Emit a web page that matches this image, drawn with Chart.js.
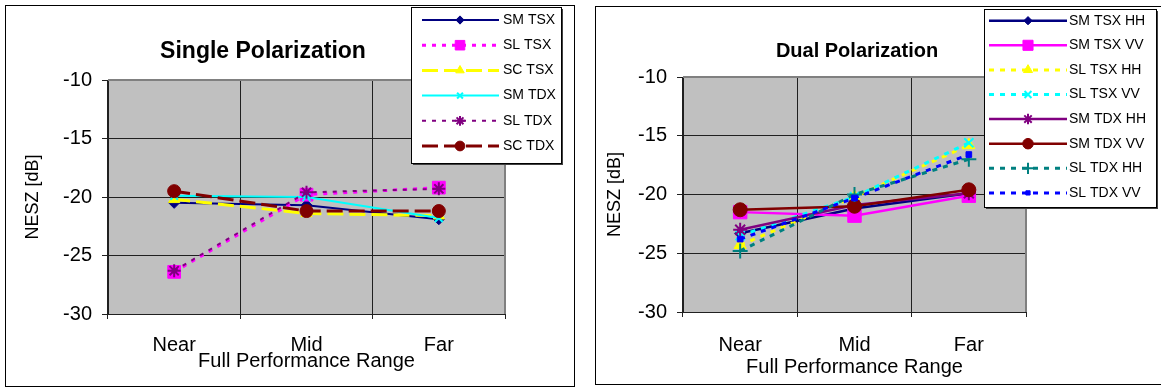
<!DOCTYPE html>
<html>
<head>
<meta charset="utf-8">
<script src="https://cdn.jsdelivr.net/npm/chart.js@4.4.0/dist/chart.umd.min.js"></script>
<style>
  body { margin: 0; background: #fff; width: 1161px; height: 388px; overflow: hidden; position: relative; }
  .frame { position: absolute; border: 1px solid #000; }
  #f1 { left: 5px; top: 5px; width: 568px; height: 380px; }
  #f2 { left: 595px; top: 6px; width: 570px; height: 377px; }
  canvas { display: block; }
</style>
</head>
<body>
<div class="frame" id="f1"><canvas id="c1" width="568" height="380"></canvas></div>
<div class="frame" id="f2"><canvas id="c2" width="568" height="377"></canvas></div>
<script>
const categories = ['Near', 'Mid', 'Far']

// single polarization
const smTsx = [-20.5, -20.7, -21.9]
const slTsx = [-26.4, -19.8, -19.2]
const scTsx = [-20.2, -21.4, -21.6]
const smTdx = [-19.9, -20.0, -21.8]
const slTdx = [-26.3, -19.6, -19.3]
const scTdx = [-19.5, -21.2, -21.2]

// dual polarization
const smTsxHH = [-23.3, -21.2, -19.9]
const smTsxVV = [-21.5, -21.8, -20.1]
const slTsxHH = [-24.3, -20.2, -15.8]
const slTsxVV = [-23.5, -20.2, -15.6]
const smTdxHH = [-23.0, -20.9, -19.9]
const smTdxVV = [-21.3, -21.0, -19.6]
const slTdxHH = [-24.8, -20.0, -17.0]
const slTdxVV = [-23.8, -20.3, -16.6]

const yTicks = [-30, -25, -20, -15, -10]

const FONT = '"Liberation Sans", Arial, sans-serif'
Chart.defaults.font.family = FONT
Chart.defaults.color = '#000'

function line(label, data, color, width, dash, style, radius) {
  const open = style === 'crossRot' || style === 'cross' || style === 'star' || style === 'line'
  return {
    label: label,
    data: data,
    borderColor: color,
    backgroundColor: color,
    borderWidth: width,
    borderDash: dash,
    pointStyle: style,
    pointRadius: radius,
    pointBackgroundColor: color,
    pointBorderColor: color,
    pointBorderWidth: open ? 2 : 1,
    tension: 0,
    fill: false
  }
}

const deco = {
  id: 'deco',
  beforeDraw(chart) {
    const {ctx, chartArea: a} = chart
    ctx.save()
    ctx.fillStyle = '#c0c0c0'
    ctx.fillRect(a.left, a.top, a.right - a.left, a.bottom - a.top)
    ctx.restore()
  },
  afterDraw(chart, args, o) {
    const {ctx, chartArea: a} = chart
    ctx.save()
    ctx.strokeStyle = '#808080'
    ctx.lineWidth = 2
    ctx.beginPath()
    ctx.moveTo(a.left, a.top)
    ctx.lineTo(a.right, a.top)
    ctx.lineTo(a.right, a.bottom)
    ctx.stroke()

    ctx.fillStyle = '#000'
    ctx.font = o.titleFont
    ctx.textAlign = 'center'
    ctx.textBaseline = 'middle'
    ctx.fillText(o.title, o.titleX, o.titleY)

    // legend box
    const b = o.box
    ctx.fillStyle = '#404040'
    ctx.fillRect(b[0] + 2, b[1] + 2, b[2] - b[0], b[3] - b[1])
    ctx.fillStyle = '#fff'
    ctx.fillRect(b[0], b[1], b[2] - b[0], b[3] - b[1])
    ctx.strokeStyle = '#000'
    ctx.lineWidth = 1
    ctx.strokeRect(b[0] + 0.5, b[1] + 0.5, b[2] - b[0], b[3] - b[1])

    chart.data.datasets.forEach((ds, i) => {
      const y = o.rowY + i * o.rowH
      ctx.save()
      ctx.strokeStyle = ds.borderColor
      ctx.lineWidth = ds.borderWidth
      ctx.setLineDash(ds.borderDash || [])
      ctx.beginPath()
      ctx.moveTo(o.lineX[0], y)
      ctx.lineTo(o.lineX[1], y)
      ctx.stroke()
      ctx.setLineDash([])
      ctx.fillStyle = ds.pointBackgroundColor
      ctx.strokeStyle = ds.pointBorderColor
      ctx.lineWidth = ds.pointBorderWidth
      Chart.helpers.drawPoint(ctx, {
        pointStyle: ds.pointStyle, radius: ds.pointRadius * 0.75, rotation: 0, borderWidth: ds.pointBorderWidth
      }, o.markerX, y)
      ctx.restore()
      ctx.fillStyle = '#000'
      ctx.font = o.legendFont
      ctx.textAlign = 'left'
      ctx.textBaseline = 'middle'
      ctx.fillText(ds.label, o.textX, y)
    })
    ctx.restore()
  }
}

function makeChart(canvas, datasets, c) {
  // later series drawn on top
  datasets.forEach((d, i) => { d.order = datasets.length - i })
  return new Chart(canvas, {
    type: 'line',
    data: { labels: categories, datasets: datasets },
    plugins: [deco],
    options: {
      responsive: false,
      animation: false,
      layout: { padding: { top: c.top, right: c.right, left: 0, bottom: 0 } },
      plugins: {
        legend: { display: false },
        tooltip: { enabled: false },
        deco: c.deco
      },
      scales: {
        x: {
          offset: true,
          grid: { offset: true, color: '#202020', lineWidth: 1, tickLength: 5 },
          border: { color: '#202020', width: 1 },
          ticks: { color: '#000', font: { size: 20 }, padding: c.xTickPad, maxRotation: 0 },
          title: { display: true, text: 'Full Performance Range', color: '#000', font: { size: 20 }, padding: { top: 0, bottom: c.xTitlePad } },
          afterFit(s) { s.height = c.xHeight }
        },
        y: {
          min: yTicks[0],
          max: yTicks[yTicks.length - 1],
          afterBuildTicks(s) { s.ticks = yTicks.map(v => ({ value: v })) },
          grid: { color: '#202020', lineWidth: 1, tickLength: 6 },
          border: { color: '#202020', width: 1 },
          ticks: { color: '#000', font: { size: 20 }, padding: 10 },
          title: { display: true, text: 'NESZ [dB]', color: '#000', font: { size: 18 }, padding: { top: c.yTitlePad, bottom: 0 } },
          afterFit(s) { s.width = c.yWidth }
        }
      }
    }
  })
}

makeChart(document.getElementById('c1'), [
  line('SM TSX', smTsx, '#000080', 2, [], 'rectRot', 5.5),
  line('SL TSX', slTsx, '#ff00ff', 3, [4, 6], 'rect', 9),
  line('SC TSX', scTsx, '#ffff00', 3, [16, 6], 'triangle', 6.5),
  line('SM TDX', smTdx, '#00ffff', 2, [], 'crossRot', 5.5),
  line('SL TDX', slTdx, '#800080', 2, [4, 6], 'star', 6.5),
  line('SC TDX', scTdx, '#800000', 3, [16, 6], 'circle', 6.5)
], {
  top: 74, right: 69, yWidth: 102, xHeight: 72, xTickPad: 14, xTitlePad: 13, yTitlePad: 16,
  deco: {
    title: 'Single Polarization', titleFont: 'bold 23px ' + FONT, titleX: 257, titleY: 46,
    box: [405, 1, 555, 157], rowY: 14, rowH: 25.2, lineX: [416, 493], markerX: 454, textX: 497,
    legendFont: '14px ' + FONT
  }
})

makeChart(document.getElementById('c2'), [
  line('SM TSX HH', smTsxHH, '#000080', 2.5, [], 'rectRot', 5.5),
  line('SM TSX VV', smTsxVV, '#ff00ff', 2.5, [], 'rect', 9.5),
  line('SL TSX HH', slTsxHH, '#ffff00', 3, [5, 6], 'triangle', 7),
  line('SL TSX VV', slTsxVV, '#00ffff', 3, [5, 6], 'crossRot', 6.5),
  line('SM TDX HH', smTdxHH, '#800080', 2.5, [], 'star', 7),
  line('SM TDX VV', smTdxVV, '#800000', 2.5, [], 'circle', 7),
  line('SL TDX HH', slTdxHH, '#008080', 3, [5, 6], 'cross', 7.5),
  line('SL TDX VV', slTdxVV, '#0000ff', 3, [5, 6], 'rect', 4)
], {
  top: 70, right: 138, yWidth: 87, xHeight: 72, xTickPad: 16, xTitlePad: 5, yTitlePad: 8,
  deco: {
    title: 'Dual Polarization', titleFont: 'bold 20px ' + FONT, titleX: 261, titleY: 44,
    box: [388, 2, 560, 200], rowY: 13.7, rowH: 24.6, lineX: [393, 471], markerX: 432, textX: 473,
    legendFont: '14px ' + FONT
  }
})
</script>
</body>
</html>
